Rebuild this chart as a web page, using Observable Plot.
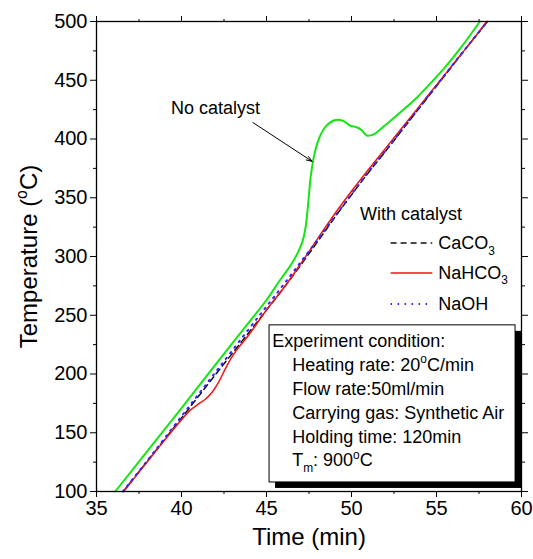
<!DOCTYPE html>
<html>
<head>
<meta charset="utf-8">
<script src="https://cdn.jsdelivr.net/npm/d3@7"></script>
<script src="https://cdn.jsdelivr.net/npm/@observablehq/plot@0.6"></script>
<style>
  body { margin: 0; background: #fff; }
  #chart { width: 533px; height: 559px; }
</style>
</head>
<body>
<div id="chart"></div>
<script>
// Sample temperature (°C) against time (min) during heating, per run
const noCatalystTime = [36.1, 38, 40, 42, 44, 45, 45.8, 46.4, 46.8, 47.1, 47.3, 47.45, 47.6, 47.75, 47.9, 48.1, 48.5, 49.0, 49.5, 49.9, 50.3, 50.6, 50.9, 51.3, 52, 52.9, 53.9, 54.65, 55.5, 56.5, 57.55];
const noCatalystTemp = [100, 134.5, 171, 208, 244.5, 263, 280, 292, 302, 312, 325, 345, 368, 382, 392, 401, 411, 416, 415.5, 411.5, 410, 407.5, 403, 404, 412, 423, 436, 447.5, 461, 479, 500];

const caco3Time = [36.57, 38, 40, 42, 44, 45, 46, 47, 48, 49, 50, 51, 52, 53, 54, 55, 56, 57, 58];
const caco3Temp = [100, 126, 162.5, 199.5, 236, 254.5, 273, 292.5, 312.5, 333, 352.5, 371.5, 389.5, 408, 426.5, 445, 463.5, 482, 500];

const nahco3Time = [36.6, 38, 39, 40, 40.5, 41, 41.4, 41.8, 42.2, 42.6, 43.1, 44, 45, 46, 47, 48, 49, 50, 51, 52, 53, 54, 55, 56, 57, 57.95];
const nahco3Temp = [100, 125.5, 143.5, 161, 169, 174.5, 178.5, 184.5, 193.5, 205, 217.5, 234, 254.5, 273, 293.5, 315, 336, 355.5, 374, 392, 410, 428, 446, 464, 482, 500];

const naohTime = [36.55, 38, 40, 42, 44, 45, 46, 47, 48, 49, 50, 51, 52, 53, 54, 55, 56, 57, 58];
const naohTemp = [100, 126.5, 164, 201.5, 239, 257.5, 276, 295, 314, 333.5, 353, 372, 390, 408.5, 427, 445.5, 464, 482, 500];

// Axis ticks
const xMajor = [35, 40, 45, 50, 55, 60];
const xMinor = [37.5, 42.5, 47.5, 52.5, 57.5];
const yMajor = [100, 150, 200, 250, 300, 350, 400, 450, 500];
const yMinor = [125, 175, 225, 275, 325, 375, 425, 475];

// Legend entries ("_" marks a subscript, "^" a superscript)
const legendNames = ["CaCO_3", "NaHCO_3", "NaOH"];
const legendTitle = "With catalyst";

// Experiment condition notes
const conditionLines = [
  "Experiment condition:",
  "Heating rate: 20^oC/min",
  "Flow rate:50ml/min",
  "Carrying gas: Synthetic Air",
  "Holding time: 120min",
  "T_m: 900^oC"
];

const series = (ts, vs) => ts.map((t, i) => ({t, T: vs[i]}));
const noCatalyst = series(noCatalystTime, noCatalystTemp);
const caco3 = series(caco3Time, caco3Temp);
const nahco3 = series(nahco3Time, nahco3Temp);
const naoh = series(naohTime, naohTemp);

const styles = {
  caco3: {stroke: "#111", strokeWidth: 1.5, strokeDasharray: "6,4"},
  nahco3: {stroke: "#f01414", strokeWidth: 1.5},
  naoh: {stroke: "#2828ff", strokeWidth: 2, strokeDasharray: "1.5,5.5"},
  none: {stroke: "#14e614", strokeWidth: 2}
};
const legendStyles = [styles.caco3, styles.nahco3, styles.naoh];

// Annotation placement in (time, temperature) units
const legendRows = [311.5, 286, 259.5];
const legendLine = [52.3, 54.75];
const legendTextAt = 55.1;
const legendTitleAt = {t: 50.5, T: 335.8};
const noteAt = {t: 42.0, T: 426};
const noteArrow = {t1: 44.2, T1: 414, t2: 47.68, T2: 381};
const box = {t1: 45.18, t2: 59.65, T1: 107.7, T2: 241.4};
const boxTextT = [228.2, 207.6, 187.4, 167, 146.6, 126.4];
const boxTextLeft = [45.34, 46.51];

const font = "'Liberation Sans', Arial, Helvetica, sans-serif";
const blank = () => "";
const curve = "catmull-rom";

const legendData = legendNames.map((name, i) => ({name, T: legendRows[i], i}));
const boxText = conditionLines.map((text, i) => ({text, T: boxTextT[i], t: boxTextLeft[i === 0 ? 0 : 1]}));

const chart = Plot.plot({
  width: 533,
  height: 559,
  marginLeft: 96,
  marginRight: 12,
  marginTop: 21,
  marginBottom: 68,
  style: {fontFamily: font, fontSize: "20px", background: "#fff", color: "#000"},
  x: {domain: [35, 60]},
  y: {domain: [100, 500]},
  marks: [
    // axes: labelled bottom/left, bare ticks top/right
    Plot.axisX({anchor: "bottom", ticks: xMajor, tickSize: 6, tickPadding: 3, label: null}),
    Plot.axisX({anchor: "bottom", ticks: xMinor, tickSize: 3, tickFormat: blank, label: null}),
    Plot.axisX({anchor: "top", ticks: xMajor, tickSize: 6, tickFormat: blank, label: null}),
    Plot.axisX({anchor: "top", ticks: xMinor, tickSize: 3, tickFormat: blank, label: null}),
    Plot.axisY({anchor: "left", ticks: yMajor, tickSize: 6, tickPadding: 3, label: null}),
    Plot.axisY({anchor: "left", ticks: yMinor, tickSize: 3, tickFormat: blank, label: null}),
    Plot.axisY({anchor: "right", ticks: yMajor, tickSize: 6, tickFormat: blank, label: null}),
    Plot.axisY({anchor: "right", ticks: yMinor, tickSize: 3, tickFormat: blank, label: null}),

    // curves
    Plot.line(caco3, {x: "t", y: "T", curve, ...styles.caco3}),
    Plot.line(nahco3, {x: "t", y: "T", curve, ...styles.nahco3}),
    Plot.line(naoh, {x: "t", y: "T", curve, ...styles.naoh}),
    Plot.line(noCatalyst, {x: "t", y: "T", curve, ...styles.none}),

    // "No catalyst" note with arrow
    Plot.text([noteAt], {x: "t", y: "T", text: () => "No catalyst", fontSize: 18}),
    Plot.arrow([noteArrow], {x1: "t1", y1: "T1", x2: "t2", y2: "T2", stroke: "#000", strokeWidth: 1, headLength: 9, headAngle: 40}),

    // legend
    Plot.text([legendTitleAt], {x: "t", y: "T", text: () => legendTitle, textAnchor: "start", fontSize: 18}),
    ...legendData.map(d => Plot.link([d], {x1: () => legendLine[0], x2: () => legendLine[1], y1: "T", y2: "T", ...legendStyles[d.i]})),
    Plot.text(legendData, {x: () => legendTextAt, y: "T", text: "name", textAnchor: "start", fontSize: 18}),

    // condition box with drop shadow
    Plot.rect([box], {x1: "t1", x2: "t2", y1: "T1", y2: "T2", fill: "#000", dx: 6, dy: 6}),
    Plot.rect([box], {x1: "t1", x2: "t2", y1: "T1", y2: "T2", fill: "#fff", stroke: "#000", strokeWidth: 1}),
    Plot.text(boxText, {x: "t", y: "T", text: "text", textAnchor: "start", fontSize: 18}),

    Plot.frame({stroke: "#000", strokeWidth: 1.3}),

    // axis titles
    Plot.text(["Time (min)"], {frameAnchor: "bottom", text: d => d, textAnchor: "middle", dy: 53.3, fontSize: 24}),
    Plot.text(["Temperature (^oC)"], {frameAnchor: "left", text: d => d, textAnchor: "middle", rotate: -90, dx: -66.7, fontSize: 24})
  ]
});

document.getElementById("chart").appendChild(chart);

// Turn "_x" into subscripts and "^x" into superscripts
const NS = "http://www.w3.org/2000/svg";
chart.querySelectorAll("text").forEach(el => {
  const targets = el.children.length ? Array.from(el.children) : [el];
  let changed = false;
  targets.forEach(target => {
    const s = target.textContent;
    if (!/[_^]/.test(s)) return;
    changed = true;
    const fs = parseFloat(getComputedStyle(target).fontSize) || 18;
    const parts = s.split(/([_^].)/);
    target.textContent = "";
    let shift = 0;
    for (const p of parts) {
      if (!p) continue;
      let want = 0, txt = p, small = false;
      if (p.length === 2 && p[0] === "_") { want = 0.32 * fs; txt = p[1]; small = true; }
      else if (p.length === 2 && p[0] === "^") { want = -0.42 * fs; txt = p[1]; small = true; }
      const ts = document.createElementNS(NS, "tspan");
      if (want !== shift) ts.setAttribute("dy", (want - shift).toFixed(2));
      shift = want;
      if (small) ts.setAttribute("font-size", (0.66 * fs).toFixed(1));
      ts.textContent = txt;
      target.appendChild(ts);
    }
  });
  // keep centred labels centred once split into pieces
  if (changed && getComputedStyle(el).textAnchor === "middle") {
    const len = el.getComputedTextLength();
    const x0 = parseFloat(el.getAttribute("x")) || 0;
    el.setAttribute("text-anchor", "start");
    el.style.textAnchor = "start";
    el.setAttribute("x", (x0 - len / 2).toFixed(2));
  }
});
</script>
</body>
</html>
